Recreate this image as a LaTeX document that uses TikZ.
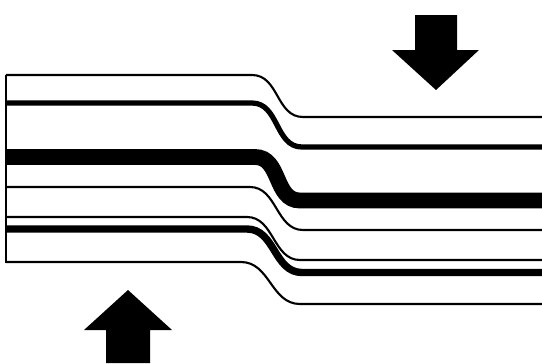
\documentclass[tikz,border=0pt]{standalone}
\begin{document}
\begin{tikzpicture}[x=0.02cm,y=-0.02cm]
    \tikzset{thinlayer/.style = {draw,line width=1.2pt}}
    \tikzset{midlayer/.style = {draw,line width=3pt}}
    \tikzset{widelayer/.style = {draw,line width=4.2pt}}
    \tikzset{corelayer/.style = {draw,line width=9pt}}
    \tikzset{pressarrow/.style = {fill=black,draw=none}}

    \useasboundingbox (0,0) rectangle (542,363);

    % left edge
    \draw[thinlayer] (6,74.5) -- (6,262.5);

    % layers
    \draw[thinlayer] (6,75) -- (252,75) .. controls (279,75) and (276,117) .. (303,117) -- (542,117);
    \draw[midlayer] (6,103) -- (252,103) .. controls (279,103) and (275,147) .. (302,147) -- (542,147);
    \draw[corelayer] (6,157) -- (255,157) .. controls (281,157) and (274,200.5) .. (300,200.5) -- (542,200.5);
    \draw[thinlayer] (6,187) -- (250,187) .. controls (277,187) and (276,230) .. (303,230) -- (542,230);
    \draw[thinlayer] (6,217) -- (247,217) .. controls (274,217) and (273,260) .. (300,260) -- (542,260);
    \draw[widelayer] (6,229) -- (247,229) .. controls (275,229) and (274,272.5) .. (302,272.5) -- (542,272.5);
    \draw[thinlayer] (6,262) -- (241,262) .. controls (270,262) and (271,304) .. (300,304) -- (542,304);

    % arrows
    \fill[pressarrow] (415,15) -- (457,15) -- (457,50) -- (479,50) -- (436,90) -- (392,50) -- (415,50) -- cycle;
    \fill[pressarrow] (106,363) -- (150,363) -- (150,330) -- (172,330) -- (128,290) -- (84,330) -- (106,330) -- cycle;
\end{tikzpicture}
\end{document}
